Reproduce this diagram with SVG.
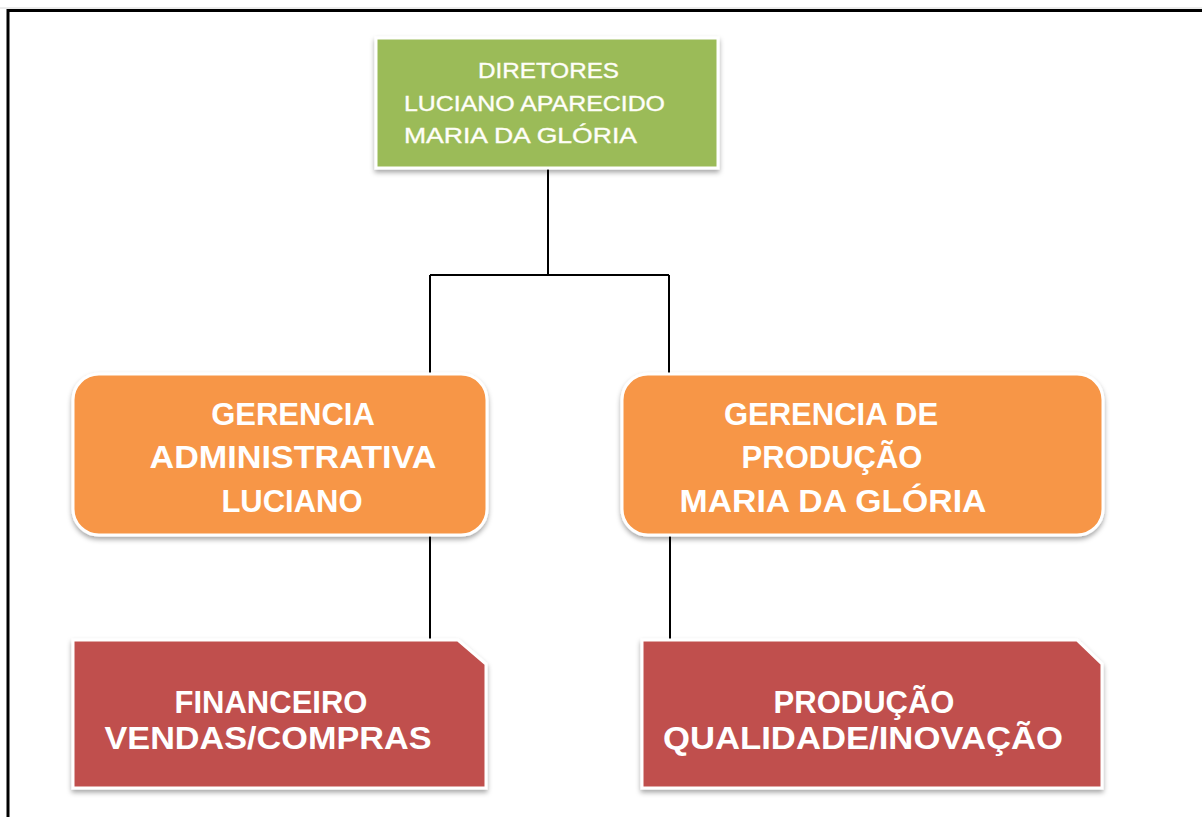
<svg xmlns="http://www.w3.org/2000/svg" width="1202" height="817" viewBox="0 0 1202 817">
<style>
.box{stroke:#ffffff;stroke-width:3;filter:url(#sh)}
.g{fill:#9BBB59}
.o{fill:#F79646}
.r{fill:#C0504D}
.t{font-family:"Liberation Sans",Arial,sans-serif;fill:#ffffff}
.tg{font-size:22px;stroke:#fbfbe8;stroke-width:0.4}
.tb{font-size:31px;font-weight:bold;text-anchor:middle}
.conn{stroke:#000000;stroke-width:2;fill:none}
</style>
<defs>
<filter id="sh" x="-10%" y="-10%" width="120%" height="130%">
<feDropShadow dx="0" dy="3" stdDeviation="2.5" flood-color="#000000" flood-opacity="0.35"/>
</filter>
</defs>
<rect width="1202" height="817" fill="#ffffff"/>
<g id="frame">
<line x1="0" y1="8" x2="1202" y2="8" stroke="#d8d8d8" stroke-width="1"/>
<path d="M8,817 V10.5 H1202" stroke="#000000" stroke-width="3" fill="none"/>
</g>
<g id="connectors">
<path class="conn" d="M548,168 V275 M430,275 H669 M430,275 V374 M669,275 V374"/>
<path class="conn" d="M430,535 V640 M670,535 V640"/>
</g>
<g id="diretores">
<rect class="box g" x="376" y="38" width="342" height="130"/>
<text class="t tg" x="478" y="78" textLength="141" lengthAdjust="spacingAndGlyphs">DIRETORES</text>
<text class="t tg" x="404" y="111" textLength="261" lengthAdjust="spacingAndGlyphs">LUCIANO APARECIDO</text>
<text class="t tg" x="404" y="143" textLength="233" lengthAdjust="spacingAndGlyphs">MARIA  DA GLÓRIA</text>
</g>
<g id="gerencia-adm">
<rect class="box o" x="73" y="374" width="414" height="161" rx="26" ry="26"/>
<text class="t tb" x="293" y="425">GERENCIA</text>
<text class="t tb" x="293" y="468" textLength="287" lengthAdjust="spacingAndGlyphs">ADMINISTRATIVA</text>
<text class="t tb" x="292" y="512">LUCIANO</text>
</g>
<g id="gerencia-prod">
<rect class="box o" x="622" y="374" width="481" height="161" rx="26" ry="26"/>
<text class="t tb" x="831" y="425">GERENCIA DE</text>
<text class="t tb" x="832" y="468">PRODUÇÃO</text>
<text class="t tb" x="833" y="512" textLength="307" lengthAdjust="spacingAndGlyphs">MARIA DA GLÓRIA</text>
</g>
<g id="financeiro">
<path class="box r" d="M73,640 H458 L486,664 V788 H73 Z"/>
<text class="t tb" x="271" y="713">FINANCEIRO</text>
<text class="t tb" x="268" y="749" textLength="327" lengthAdjust="spacingAndGlyphs">VENDAS/COMPRAS</text>
</g>
<g id="producao">
<path class="box r" d="M642,640 H1077 L1102,664 V788 H642 Z"/>
<text class="t tb" x="864" y="713">PRODUÇÃO</text>
<text class="t tb" x="863" y="749" textLength="400" lengthAdjust="spacingAndGlyphs">QUALIDADE/INOVAÇÃO</text>
</g>
</svg>
